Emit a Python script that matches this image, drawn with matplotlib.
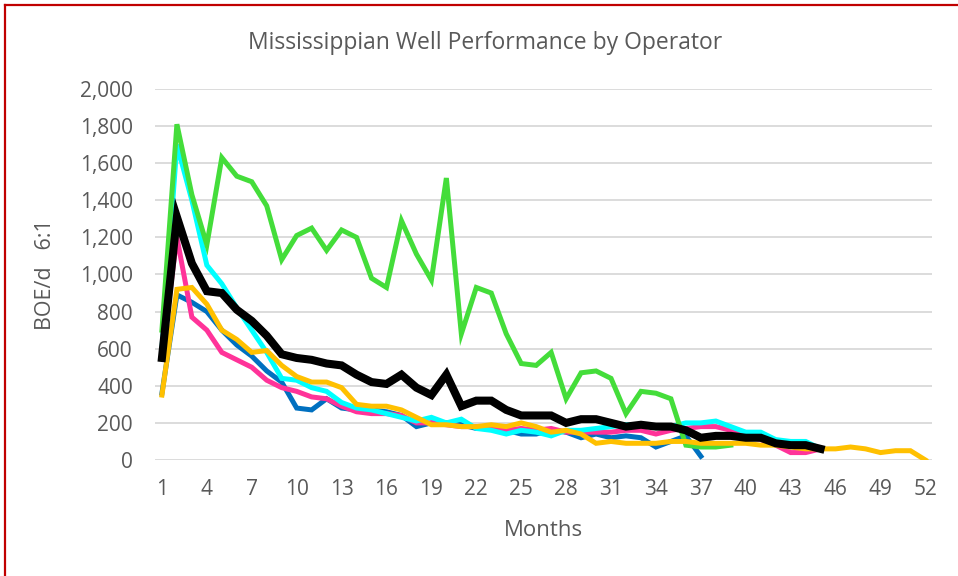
import matplotlib
matplotlib.use("Agg")
import matplotlib.pyplot as plt
from matplotlib.ticker import FuncFormatter
from matplotlib.lines import Line2D

# Datos (BOE/d por mes)
blue = [360, 890, 850, 800, 700, 620, 560, 480, 420, 280, 270, 330, 280, 270, 270, 260, 240, 180,
        200, 200, 190, 170, 170, 160, 140, 140, 160, 150, 120, 140, 120, 130, 120, 70, 100, 130, 20]
pink = [560, 1200, 770, 700, 580, 540, 500, 430, 390, 370, 340, 330, 290, 260, 250, 250, 240, 200,
        200, 190, 180, 180, 180, 160, 170, 160, 170, 150, 150, 150, 150, 160, 160, 140, 160, 170,
        180, 180, 160, 130, 110, 80, 40, 40, 60]
cyan = [600, 1700, 1400, 1050, 950, 820, 700, 580, 440, 430, 390, 370, 310, 280, 270, 250, 230, 210,
        230, 200, 220, 170, 160, 140, 160, 150, 130, 160, 160, 170, 180, 190, 190, 180, 180, 200,
        200, 210, 180, 150, 150, 110, 100, 100, 60]
green = [700, 1810, 1430, 1160, 1630, 1530, 1500, 1370, 1080, 1210, 1250, 1130, 1240, 1200, 980, 930,
         1290, 1110, 970, 1520, 680, 930, 900, 680, 520, 510, 580, 330, 470, 480, 440, 250, 370, 360,
         330, 80, 70, 70, 80]
yellow = [350, 920, 930, 840, 700, 650, 580, 590, 510, 450, 420, 420, 390, 300, 290, 290, 270, 230,
          190, 190, 180, 180, 190, 180, 200, 180, 150, 160, 140, 90, 100, 90, 90, 90, 100, 100, 90,
          90, 90, 90, 80, 80, 70, 60, 60, 60, 70, 60, 40, 50, 50, 0]
black = [550, 1310, 1060, 910, 900, 810, 750, 670, 570, 550, 540, 520, 510, 460, 420, 410, 460, 390,
         350, 460, 290, 320, 320, 270, 240, 240, 240, 200, 220, 220, 200, 180, 190, 180, 180, 160,
         120, 130, 130, 120, 120, 90, 80, 80, 60]

xticks = list(range(1, 53, 3))
gris = '#595959'

plt.rcParams['font.family'] = ['Open Sans', 'DejaVu Sans']

fig = plt.figure(figsize=(9.58, 5.76), dpi=100)
ax = fig.add_axes([0.162, 0.2014, 0.811, 0.6441])

series = [(blue, '#0070C0', 3.6), (pink, '#FF3399', 3.6), (cyan, '#00FFFF', 3.6),
          (green, '#44DD3A', 3.6), (yellow, '#FFC000', 3.6), (black, 'black', 5.8)]
for vals, col, lw in series:
    ax.plot(range(1, len(vals) + 1), vals, color=col, linewidth=lw, solid_joinstyle='miter')

ax.set_xlim(0.55, 52.45)
ax.set_ylim(0, 2000)
ax.set_xticks(xticks)
ax.set_yticks(range(0, 2001, 200))
ax.yaxis.set_major_formatter(FuncFormatter(lambda v, p: f'{int(v):,}'))
ax.grid(axis='y', color='#D9D9D9', linewidth=1.3)
ax.set_axisbelow(True)
for s in ax.spines.values():
    s.set_visible(False)
ax.tick_params(length=0, labelsize=15, colors=gris)
ax.tick_params(axis='y', pad=16)
ax.tick_params(axis='x', pad=14)

# Títulos
fig.text(0.506, 0.925, 'Mississippian Well Performance by Operator', fontsize=16.5,
         color=gris, ha='center', va='center')
fig.text(0.567, 1 - 531 / 576, 'Months', fontsize=16, color=gris, ha='center', va='center')
ax.set_ylabel('BOE/d   6:1', fontsize=15.5, color=gris, labelpad=17)

# Borde rojo (izquierda y arriba)
fig.add_artist(Line2D([0.0057, 0.0057], [0, 0.992], transform=fig.transFigure,
                      color='#C00000', linewidth=1.6))
fig.add_artist(Line2D([0.0057, 1], [0.992, 0.992], transform=fig.transFigure,
                      color='#C00000', linewidth=1.6))

fig.savefig('out.png', dpi=100)
